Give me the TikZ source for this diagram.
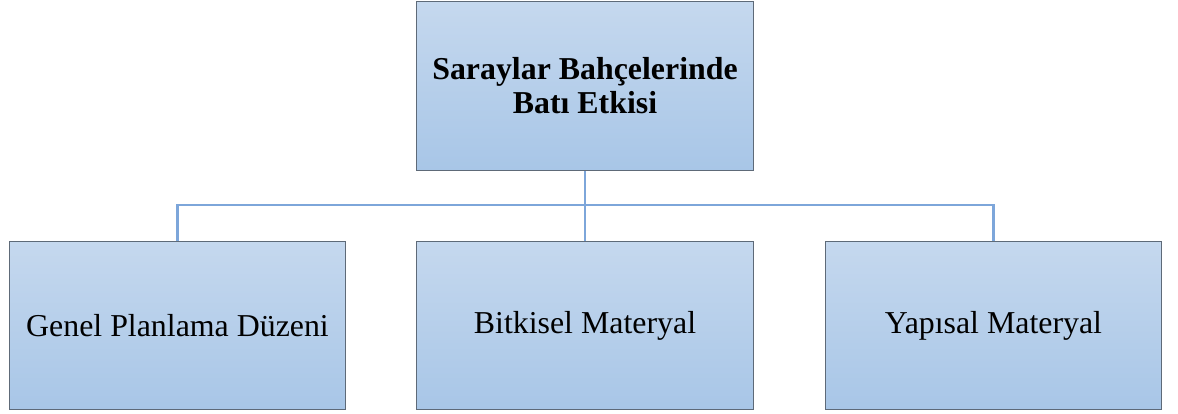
\documentclass[tikz,border=0pt]{standalone}
\usepackage{fontspec}
\setmainfont{Liberation Serif}
\usetikzlibrary{positioning, calc}
\definecolor{boxtop}{HTML}{C5D8EE}
\definecolor{boxbottom}{HTML}{A8C6E7}
\definecolor{boxline}{HTML}{5E6A78}
\definecolor{linkline}{HTML}{7DA6DA}
\tikzset{
    box/.style={draw=boxline, line width=0.9pt, top color=boxtop, bottom color=boxbottom,
        minimum width=252.5pt, minimum height=126.5pt, align=center, inner sep=2pt,
        font=\fontsize{23.9}{25.5}\selectfont},
    link/.style={draw=linkline, line width=2.1pt}
}
\begin{document}
\begin{tikzpicture}[x=0.75pt, y=-0.75pt]
    \useasboundingbox (0,0) rectangle (1178,414);
    \node[box, font=\fontsize{23.9}{25.5}\selectfont\bfseries] (top) at (585,86) {Saraylar Bahçelerinde\\Batı Etkisi};
    \node[box] (plan) at (177.5,325.5) {Genel Planlama Düzeni};
    \node[box] (plant) at (585,325.5) {Bitkisel Materyal};
    \node[box] (build) at (993.5,325.5) {Yapısal Materyal};
    \coordinate (bus) at (585,205);
    % connectors
    \draw[link] (top.south) -- (bus);
    \draw[link] (bus) -| (plan.north);
    \draw[link] (bus) -| (build.north);
    \draw[link] (bus) -- (plant.north);
\end{tikzpicture}
\end{document}
